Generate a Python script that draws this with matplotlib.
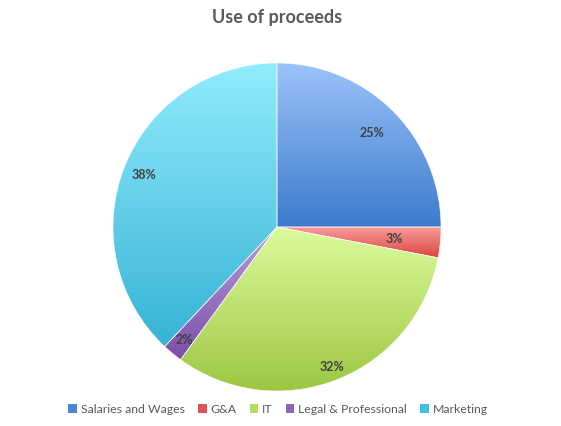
import numpy as np
import matplotlib
matplotlib.use("Agg")
from matplotlib import pyplot as plt
from matplotlib.colors import LinearSegmentedColormap
from matplotlib.patches import Patch

categories = ["Salaries and Wages", "G&A", "IT", "Legal & Professional", "Marketing"]
shares = [25, 3, 32, 2, 38]
labels = ["25%", "3%", "32%", "2%", "38%"]

# gradient colours per slice (top, bottom)
top_cols = ["#9cc2fa", "#fb9a98", "#dcfb9c", "#b89ddc", "#92ecfd"]
bot_cols = ["#3c7bcc", "#d9463f", "#9cc641", "#7c4ea8", "#36b3d5"]
legend_cols = ["#4a86d4", "#e05552", "#b5dc5c", "#8c64b8", "#45bfdf"]
label_dist = [0.82, 0.72, 0.91, 0.89, 0.87]

plt.rcParams['font.family'] = ['Lato', 'DejaVu Sans']
fig = plt.figure(figsize=(5.61, 4.27), dpi=100)
R = 164
ax = fig.add_axes([(277 - R) / 561, (427 - 228 - R) / 427, 2 * R / 561, 2 * R / 427])

wedges, texts = ax.pie(shares, startangle=90, counterclock=False, radius=1,
                       labels=labels, labeldistance=0.8,
                       wedgeprops=dict(edgecolor="white", linewidth=0.4, facecolor="none"),
                       textprops=dict(color="#404040", fontsize=9, fontweight="bold"))

theta = 90.0
for w, t, s, c1, c2, d in zip(wedges, texts, shares, top_cols, bot_cols, label_dist):
    verts = w.get_path().vertices
    y0, y1 = verts[:, 1].min(), verts[:, 1].max()
    x0, x1 = verts[:, 0].min(), verts[:, 0].max()
    cmap = LinearSegmentedColormap.from_list("g", [c2, c1])
    grad = np.linspace(0, 1, 256).reshape(-1, 1)
    im = ax.imshow(grad, cmap=cmap, origin="lower", extent=[x0, x1, y0, y1],
                   aspect="auto", zorder=0.5)
    im.set_clip_path(w)
    mid = np.deg2rad(theta - s * 3.6 / 2)
    theta -= s * 3.6
    t.set_position((d * np.cos(mid), d * np.sin(mid)))
    t.set_ha("center")
    t.set_va("center")
    t.set_zorder(3)
    w.set_zorder(2)

ax.set_xlim(-1, 1)
ax.set_ylim(-1, 1)
ax.set_aspect("equal")
ax.axis("off")

fig.text(277 / 561, 1 - 17 / 427, "Use of proceeds", ha="center", va="center",
         fontsize=13, color="#595959", fontweight="bold")

handles = [Patch(facecolor=c, edgecolor="none") for c in legend_cols]
fig.legend(handles, categories, loc="center", bbox_to_anchor=(278 / 561, 1 - 410 / 427),
           ncol=5, frameon=False, fontsize=8.8, handlelength=0.7, handleheight=0.7,
           handletextpad=0.3, columnspacing=1.1, labelcolor="#595959")

fig.savefig("out.png", dpi=100)
